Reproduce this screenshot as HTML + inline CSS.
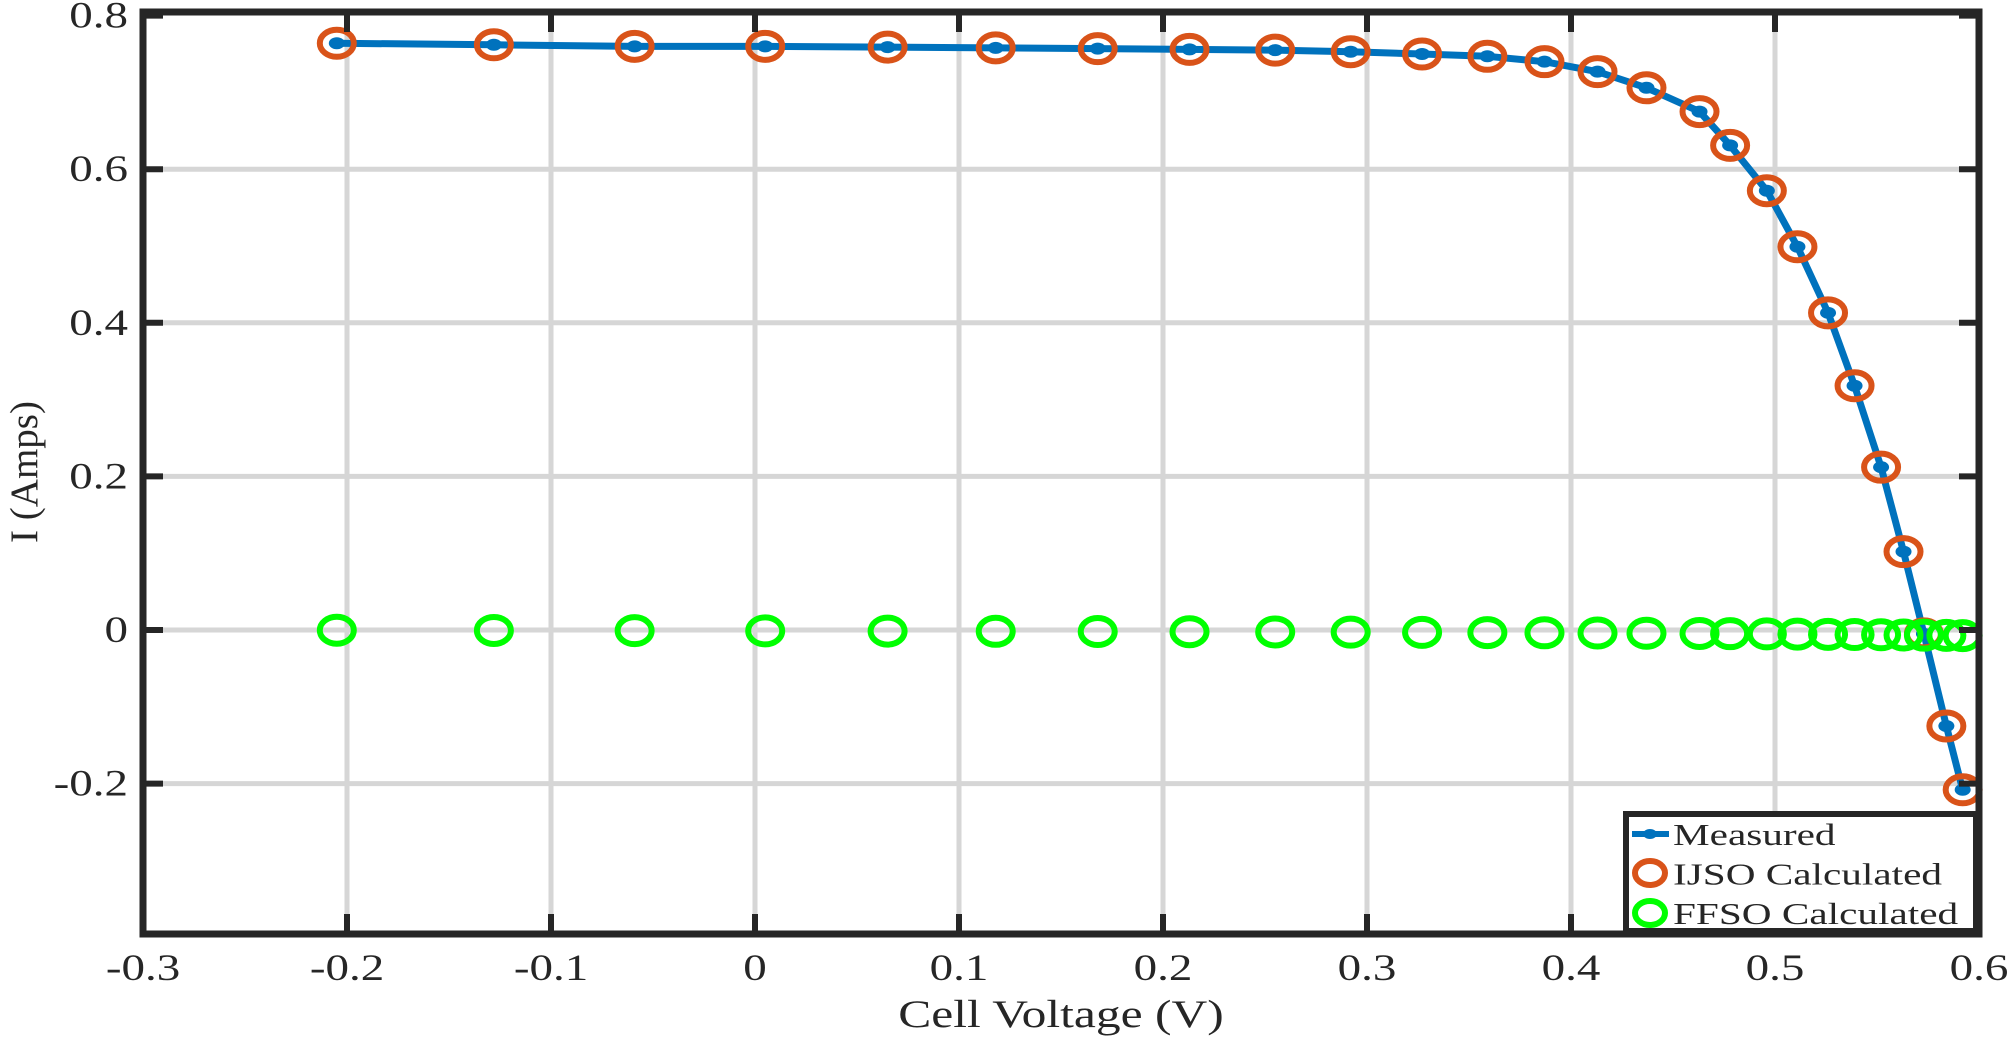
<!DOCTYPE html>
<html><head><meta charset="utf-8"><style>
html,body{margin:0;padding:0;background:#fff;}
svg{display:block;}
text{font-family:"Liberation Serif",serif;fill:#262626;}
</style></head><body>
<svg id="s" width="2008" height="1037" viewBox="0 0 2008 1037" xmlns="http://www.w3.org/2000/svg">
<g id="grid"></g>
<g id="data"></g>
<g id="axes"></g>
</svg>
<script>
const NS="http://www.w3.org/2000/svg";
const L=143,R=1979,T=12,B=934;
const X=v=>L+(v+0.3)*2040, Y=v=>630-v*768;
function el(p,n,a,txt){const e=document.createElementNS(NS,n);for(const k in a)e.setAttribute(k,a[k]);if(txt!==undefined)e.textContent=txt;p.appendChild(e);return e;}
const g=document.getElementById('grid'),d=document.getElementById('data'),ax=document.getElementById('axes');
for(let i=-2;i<=5;i++){el(g,'line',{x1:X(i/10),x2:X(i/10),y1:T,y2:B,stroke:'#d6d6d6','stroke-width':5});}
for(let v of [-0.2,0,0.2,0.4,0.6]){el(g,'line',{x1:L,x2:R,y1:Y(v),y2:Y(v),stroke:'#d6d6d6','stroke-width':5});}
const V=[-0.205,-0.128,-0.059,0.005,0.065,0.118,0.168,0.213,0.255,0.292,0.327,0.359,0.387,0.413,0.437,0.463,0.478,0.496,0.511,0.526,0.539,0.552,0.563,0.573,0.584,0.592];
const I=[0.764,0.762,0.760,0.760,0.759,0.758,0.757,0.756,0.755,0.753,0.750,0.747,0.740,0.727,0.706,0.675,0.631,0.572,0.499,0.413,0.318,0.212,0.102,-0.005,-0.125,-0.208];
el(d,'polyline',{points:V.map((v,k)=>X(v)+','+Y(I[k])).join(' '),fill:'none',stroke:'#0072bd','stroke-width':7,'stroke-linejoin':'round'});
V.forEach((v,k)=>el(d,'ellipse',{cx:X(v),cy:Y(I[k]),rx:8,ry:6,fill:'#0072bd'}));
V.forEach((v,k)=>el(d,'ellipse',{cx:X(v),cy:Y(I[k]),rx:17,ry:13.5,fill:'none',stroke:'#d95319','stroke-width':6}));
V.forEach((v,k)=>el(d,'ellipse',{cx:X(v),cy:Y(-0.0003-0.007*k/25),rx:17,ry:13.5,fill:'none',stroke:'#00ff00','stroke-width':6}));
el(ax,'rect',{x:L,y:T,width:R-L,height:B-T,fill:'none',stroke:'#262626','stroke-width':7});
for(let i=-2;i<=5;i++){el(ax,'line',{x1:X(i/10),x2:X(i/10),y1:B,y2:B-20,stroke:'#262626','stroke-width':6});el(ax,'line',{x1:X(i/10),x2:X(i/10),y1:T,y2:T+20,stroke:'#262626','stroke-width':6});}
const yt=[-0.2,0,0.2,0.4,0.6,0.8];
for(let v of yt){el(ax,'line',{x1:L,x2:L+20,y1:Y(v),y2:Y(v),stroke:'#262626','stroke-width':6});el(ax,'line',{x1:R,x2:R-20,y1:Y(v),y2:Y(v),stroke:'#262626','stroke-width':6});
 const lab=v===0?'0':v.toFixed(1);
 el(ax,'text',{x:0,y:0,'font-size':37,'text-anchor':'end',transform:`translate(128,${Y(v)+12}) scale(1.27,1)`},lab);}
for(let i=-3;i<=6;i++){const v=i/10;const lab=i===0?'0':v.toFixed(1);
 el(ax,'text',{x:0,y:0,'font-size':37,'text-anchor':'middle',transform:`translate(${X(v)},980) scale(1.27,1)`},lab);}
el(ax,'text',{x:0,y:0,'font-size':39,'text-anchor':'middle',transform:`translate(${(L+R)/2},1027) scale(1.27,1)`},'Cell Voltage (V)');
el(ax,'text',{x:0,y:0,'font-size':39,'text-anchor':'middle',transform:'translate(37,472) rotate(-90)'},'I (Amps)');
const lg=el(ax,'g',{});
el(lg,'rect',{x:1626,y:814,width:350,height:117,fill:'#fff',stroke:'#262626','stroke-width':6});
el(lg,'line',{x1:1632,x2:1669,y1:834,y2:834,stroke:'#0072bd','stroke-width':6});
el(lg,'ellipse',{cx:1650,cy:834,rx:7,ry:5,fill:'#0072bd'});
el(lg,'ellipse',{cx:1650,cy:873,rx:15,ry:12,fill:'none',stroke:'#d95319','stroke-width':6});
el(lg,'ellipse',{cx:1650,cy:913,rx:15,ry:12,fill:'none',stroke:'#00ff00','stroke-width':6});
const items=['Measured','IJSO Calculated','FFSO Calculated'];
items.forEach((s,k)=>el(lg,'text',{x:0,y:0,'font-size':31,fill:'#000',transform:`translate(1673,${845+k*39.5}) scale(1.33,1)`},s));
</script>
</body></html>
